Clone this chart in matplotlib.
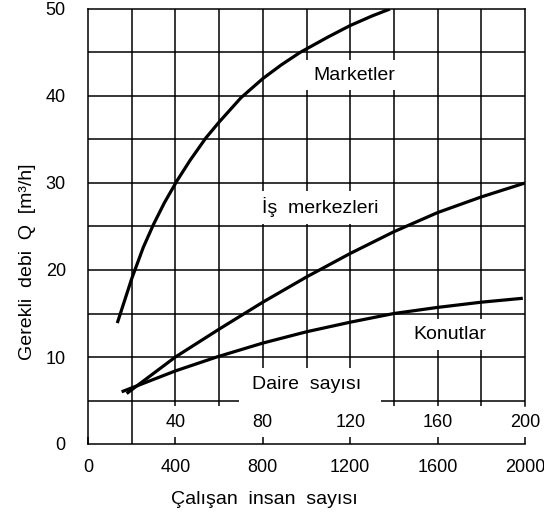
import matplotlib
matplotlib.use("Agg")
import matplotlib.pyplot as plt

plt.rcParams['font.family'] = ['Liberation Sans', 'DejaVu Sans']

# ── Data ──────────────────────────────────────────────────────────────────────
market_x = [134, 200, 253, 299, 349, 406, 467, 540, 600, 700, 800, 886, 970, 1100, 1200, 1300, 1382]
market_y = [13.9, 19.0, 22.6, 25.2, 27.7, 30.2, 32.6, 35.2, 37.0, 39.8, 42.0, 43.6, 45.0, 46.8, 48.1, 49.2, 50.0]

office_x = [177, 400, 600, 800, 1000, 1200, 1400, 1600, 1800, 2000]
office_y = [5.8, 10.0, 13.2, 16.3, 19.2, 21.9, 24.4, 26.6, 28.4, 30.0]

home_x = [154, 400, 589, 800, 1000, 1200, 1400, 1600, 1800, 1990]
home_y = [6.0, 8.4, 10.0, 11.6, 12.9, 14.0, 15.0, 15.7, 16.3, 16.75]

x_ticks = [0, 400, 800, 1200, 1600, 2000]
y_ticks = [0, 10, 20, 30, 40, 50]
daire_ticks = [40, 80, 120, 160, 200]   # secondary scale: 1 daire = 10 persons

GRID_LW = 1.1
CURVE_LW = 2.3
fig = plt.figure(figsize=(5.44, 5.15), dpi=100)
ax = fig.add_axes([88 / 544, 1 - 444 / 515, 437 / 544, 435 / 515])
ax.set_xlim(0, 2000)
ax.set_ylim(0, 50)

# ── Grid ──────────────────────────────────────────────────────────────────────
ax.hlines([10, 15, 20, 25, 30, 35, 40, 45], 0, 2000, color="black", lw=GRID_LW, zorder=1)
ax.hlines(5, 0, 690, color="black", lw=GRID_LW, zorder=1)
ax.hlines(5, 1340, 2000, color="black", lw=GRID_LW, zorder=1)
ax.vlines(200, 0, 50, color="black", lw=GRID_LW, zorder=1)
ax.vlines([400, 600, 1400, 1600, 1800], 4.4, 50, color="black", lw=GRID_LW, zorder=1)
ax.vlines([800, 1000, 1200], 8.7, 50, color="black", lw=GRID_LW, zorder=1)

for s in ("left", "bottom", "top", "right"):
    ax.spines[s].set_linewidth(GRID_LW)
ax.spines["right"].set_bounds(4.4, 50)

# ── Curves ────────────────────────────────────────────────────────────────────
for xs, ys in ((market_x, market_y), (office_x, office_y), (home_x, home_y)):
    ax.plot(xs, ys, color="black", lw=CURVE_LW, zorder=3,
            solid_capstyle="butt", solid_joinstyle="round")

# ── Labels on the curves (white boxes break the grid) ─────────────────────────
box = dict(boxstyle="square,pad=0.35", fc="white", ec="none")
ax.text(1217, 42.4, "Marketler", fontsize=14, ha="center", va="center", bbox=box, zorder=4)
ax.text(1062, 27.2, "İş  merkezleri", fontsize=14, ha="center", va="center", bbox=box, zorder=4)
ax.text(1657, 12.6, "Konutlar", fontsize=14, ha="center", va="center", bbox=box, zorder=4)
ax.text(1000, 6.8, "Daire  sayısı", fontsize=14, ha="center", va="center", zorder=4)

for d in daire_ticks:
    ax.text(d * 10, 2.5, str(d), fontsize=13, ha="center", va="center", zorder=5)

# ── Ticks ─────────────────────────────────────────────────────────────────────
ax.set_xticks(x_ticks)
ax.set_yticks(y_ticks)
ax.tick_params(axis="x", direction="in", length=5, width=GRID_LW, labelsize=13, pad=11)
ax.tick_params(axis="y", length=0, labelsize=13, pad=16)

fig.text(264 / 544, 1 - 500 / 515, "Çalışan  insan  sayısı", fontsize=14,
         ha="center", va="center")
fig.text(28 / 544, 1 - 262 / 515, "Gerekli  debi  Q  [m³/h]", fontsize=14,
         ha="center", va="center", rotation=90)

fig.savefig("out.png", dpi=100)
